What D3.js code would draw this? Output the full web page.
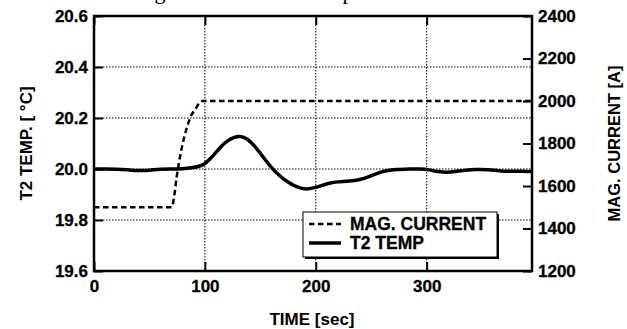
<!DOCTYPE html>
<html>
<head>
<meta charset="utf-8">
<script src="https://cdn.jsdelivr.net/npm/d3@7"></script>
<style>
  body { margin: 0; background: #fff; }
  svg text { font-family: Arial, "Liberation Sans", sans-serif; font-weight: bold; fill: #000; }
</style>
</head>
<body>
<svg id="chart" width="627" height="329"></svg>
<script>
// time axis and tick labels
const timeTicks = [0, 100, 200, 300];
const tempTicks = [19.6, 19.8, 20.0, 20.2, 20.4, 20.6];
const currTicks = [1200, 1400, 1600, 1800, 2000, 2200, 2400];

// magnet current [A] vs time [sec]
const currTime = [0, 70, 72, 74.5, 77.5, 80, 84, 88, 91, 95, 98, 395];
const currVal  = [1500, 1500, 1540, 1640, 1736, 1800, 1879, 1935, 1958, 1990, 2000, 2000];

// T2 temperature [C] vs time [sec]
const tempTime = [0, 10, 20, 30, 40, 50, 60, 70, 80, 88, 95, 100, 105, 110, 115, 120, 126, 132, 138, 145,
  152, 160, 168, 176, 184, 191, 198, 205, 212, 220, 230, 240, 248, 256, 264, 272, 285, 294, 302, 310,
  318, 326, 335, 345, 355, 365, 375, 385, 395];
const tempVal  = [20.0, 20.0, 20.0, 19.997, 19.993, 19.995, 20.0, 20.0, 20.001, 20.004, 20.01, 20.02, 20.04, 20.065, 20.09, 20.11, 20.125, 20.13, 20.12, 20.09,
  20.05, 20.005, 19.97, 19.945, 19.927, 19.92, 19.925, 19.935, 19.945, 19.95, 19.952, 19.958, 19.97, 19.985, 19.994, 19.998, 20.0, 20.001, 19.997, 19.99,
  19.986, 19.99, 19.996, 19.999, 19.998, 19.993, 19.99, 19.992, 19.99];

const svg = d3.select("#chart");
const L = 94, R = 532, T = 16, B = 271;

const x  = d3.scaleLinear().domain([0, 395]).range([L, R]);
const yT = d3.scaleLinear().domain([19.6, 20.6]).range([B, T]);
const yC = d3.scaleLinear().domain([1200, 2400]).range([B, T]);

// caption above the chart, cut off by the top edge like in the source
svg.append("text")
  .attr("x", 108).attr("y", -1)
  .style("font-family", "'Liberation Serif', 'Times New Roman', serif")
  .style("font-weight", "normal")
  .style("font-size", "22px")
  .text("Change of current and temperature");

// dotted grid
const grid = svg.append("g").attr("stroke", "#000").attr("stroke-width", 1).attr("stroke-dasharray", "1.5,1.5");
grid.selectAll(".gx").data(timeTicks.slice(1)).join("line")
  .attr("x1", d => x(d)).attr("x2", d => x(d)).attr("y1", T).attr("y2", B);
grid.selectAll(".gy").data(tempTicks.slice(1, -1)).join("line")
  .attr("x1", L).attr("x2", R).attr("y1", d => yT(d)).attr("y2", d => yT(d));

// axes with inward ticks
const tick = 9;
svg.append("g").attr("transform", `translate(0,${B})`)
  .call(d3.axisBottom(x).tickValues(timeTicks).tickSizeInner(-tick).tickSizeOuter(0).tickPadding(9).tickFormat(d3.format("d")));
svg.append("g").attr("transform", `translate(0,${T})`)
  .call(d3.axisTop(x).tickValues(timeTicks).tickSizeInner(-tick).tickSizeOuter(0).tickFormat(""));
svg.append("g").attr("transform", `translate(${L},0)`)
  .call(d3.axisLeft(yT).tickValues(tempTicks).tickSizeInner(-tick).tickSizeOuter(0).tickPadding(6).tickFormat(d3.format(".1f")));
svg.append("g").attr("transform", `translate(${R},0)`)
  .call(d3.axisRight(yC).tickValues(currTicks).tickSizeInner(-tick).tickSizeOuter(0).tickPadding(6).tickFormat(d3.format("d")));

svg.selectAll(".domain").remove();
svg.selectAll(".tick line").attr("stroke", "#000").attr("stroke-width", 2);
svg.selectAll(".tick text").style("font-size", "17px").attr("font-family", null).attr("font-size", null)
  .attr("stroke", "#000").attr("stroke-width", 0.3);

// frame
svg.append("rect").attr("x", L).attr("y", T).attr("width", R - L).attr("height", B - T)
  .attr("fill", "none").attr("stroke", "#000").attr("stroke-width", 2.5);

// series
svg.append("path")
  .attr("d", d3.line().x((d, i) => x(currTime[i])).y(d => yC(d)).curve(d3.curveMonotoneX)(currVal))
  .attr("fill", "none").attr("stroke", "#000").attr("stroke-width", 2.5).attr("stroke-dasharray", "5.5,3.5");
svg.append("path")
  .attr("d", d3.line().x((d, i) => x(tempTime[i])).y(d => yT(d)).curve(d3.curveBasis)(tempVal))
  .attr("fill", "none").attr("stroke", "#000").attr("stroke-width", 3.5);

// axis titles
svg.append("text").attr("x", 312).attr("y", 325).attr("text-anchor", "middle")
  .style("font-size", "17px").text("TIME [sec]");
svg.append("text").attr("transform", `translate(32,${(T + B) / 2}) rotate(-90)`).attr("text-anchor", "middle")
  .style("font-size", "17px").text("T2  TEMP. [ \u00B0C]");
svg.append("text").attr("transform", `translate(620,${(T + B) / 2}) rotate(-90)`).attr("text-anchor", "middle")
  .style("font-size", "16.5px").text("MAG. CURRENT [A]");

// legend
const lg = svg.append("g").attr("transform", "translate(303,212)");
lg.append("rect").attr("x", 2).attr("y", 2).attr("width", 194).attr("height", 45).attr("fill", "#000");
lg.append("rect").attr("width", 194).attr("height", 45).attr("fill", "#fff").attr("stroke", "#000").attr("stroke-width", 1);
const items = [{ name: "MAG. CURRENT", dash: "5.5,3.5", w: 2.5 }, { name: "T2 TEMP", dash: null, w: 3.5 }];
items.forEach((it, i) => {
  const yy = 12 + i * 19;
  lg.append("line").attr("x1", 6).attr("x2", 38).attr("y1", yy).attr("y2", yy)
    .attr("stroke", "#000").attr("stroke-width", it.w).attr("stroke-dasharray", it.dash);
  lg.append("text").attr("x", 47).attr("y", yy + 6).style("font-size", "17.5px")
    .attr("stroke", "#000").attr("stroke-width", 0.3).text(it.name);
});
</script>
</body>
</html>
